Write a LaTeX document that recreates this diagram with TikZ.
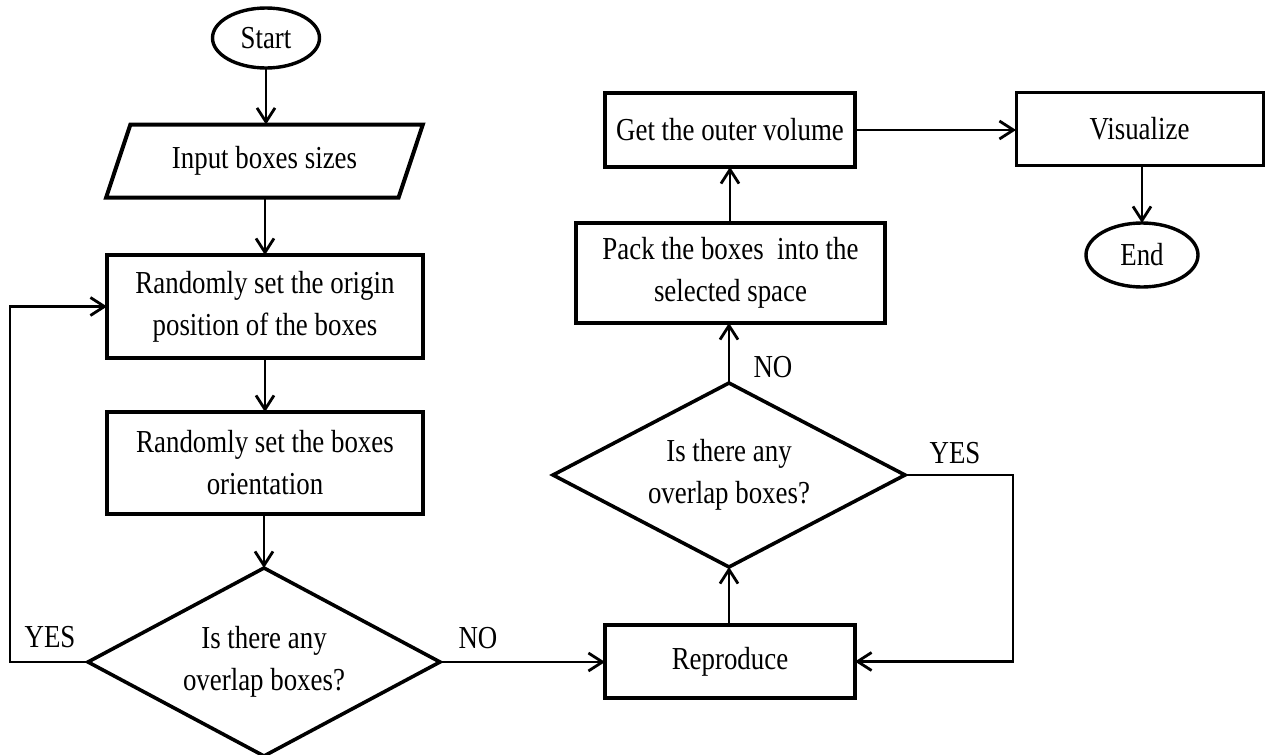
\documentclass[tikz,border=0pt]{standalone}
\usepackage{fontspec}
\setmainfont{Liberation Serif}[FakeStretch=0.84]
\usetikzlibrary{shapes.geometric,arrows.meta}
\begin{document}
\begin{tikzpicture}[x=0.5pt,y=-0.5pt,
  font=\fontsize{16}{21}\selectfont,
  every node/.style={inner sep=0pt, outer sep=0pt},
  procbox/.style={draw, line width=2pt, rectangle, align=center},
  thinbox/.style={draw, line width=1.5pt, rectangle, align=center},
  term/.style={draw, line width=1.7pt, ellipse, align=center},
  decis/.style={draw, line width=1.8pt, diamond, aspect=1.9, align=center},
  iobox/.style={draw, line width=2pt, trapezium, trapezium left angle=60, trapezium right angle=120, trapezium stretches=true, align=center},
  conn/.style={line width=1.4pt, -{Straight Barb[length=7pt,width=9pt]}},
  lbl/.style={}]
\useasboundingbox (0,0) rectangle (1266,755);

\node[term, minimum width=53.5pt, minimum height=30pt] (start) at (266,38) {Start};
\node[iobox, minimum width=158.5pt, minimum height=36.5pt] (input) at (264.5,161) {Input boxes sizes};
\node[procbox, minimum width=158pt, minimum height=51.5pt] (origin) at (265,306.5) {Randomly set the origin\\position of the boxes};
\node[procbox, minimum width=158pt, minimum height=51pt] (orient) at (265,463) {Randomly set the boxes\\orientation};
\node[decis, minimum width=176pt, minimum height=94pt] (dia1) at (264,662) {Is there any\\overlap boxes?};
\node[procbox, minimum width=125pt, minimum height=36.5pt] (repro) at (730,661.5) {Reproduce};
\node[decis, minimum width=176pt, minimum height=92pt] (dia2) at (729,475) {Is there any\\overlap boxes?};
\node[procbox, minimum width=154.5pt, minimum height=50pt] (pack) at (730.5,273) {Pack the boxes\ \ into the\\selected space};
\node[procbox, minimum width=125pt, minimum height=37pt] (outer) at (730,130) {Get the outer volume};
\node[thinbox, minimum width=123.5pt, minimum height=36.5pt] (vis) at (1139.5,128.5) {Visualize};
\node[term, minimum width=56pt, minimum height=32pt] (end) at (1142,255) {End};

\coordinate (yl) at (10,662);
\coordinate (yr) at (1013,475);

\draw[conn] (start.south) -- (start.south |- input.north);
\draw[conn] (input.south -| origin.north) -- (origin.north);
\draw[conn] (origin.south) -- (orient.north);
\draw[conn] (orient.south -| dia1.north) -- (dia1.north);
\draw[conn] (dia1.west) -- (yl) |- (origin.west);
\draw[conn] (dia1.east) -- (dia1.east -| repro.west);
\draw[conn] (repro.north -| dia2.south) -- (dia2.south);
\draw[conn] (dia2.east) -- (yr) |- (repro.east);
\draw[conn] (dia2.north) -- (dia2.north |- pack.south);
\draw[conn] (pack.north -| outer.south) -- (outer.south);
\draw[conn] (outer.east) -- (outer.east -| vis.west);
\draw[conn] (vis.south -| end.north) -- (end.north);

\node[lbl] (yes1) at (50,637) {YES};
\node[lbl] (no1) at (478,638) {NO};
\node[lbl] (yes2) at (955,453) {YES};
\node[lbl] (no2) at (773,367) {NO};
\end{tikzpicture}
\end{document}
